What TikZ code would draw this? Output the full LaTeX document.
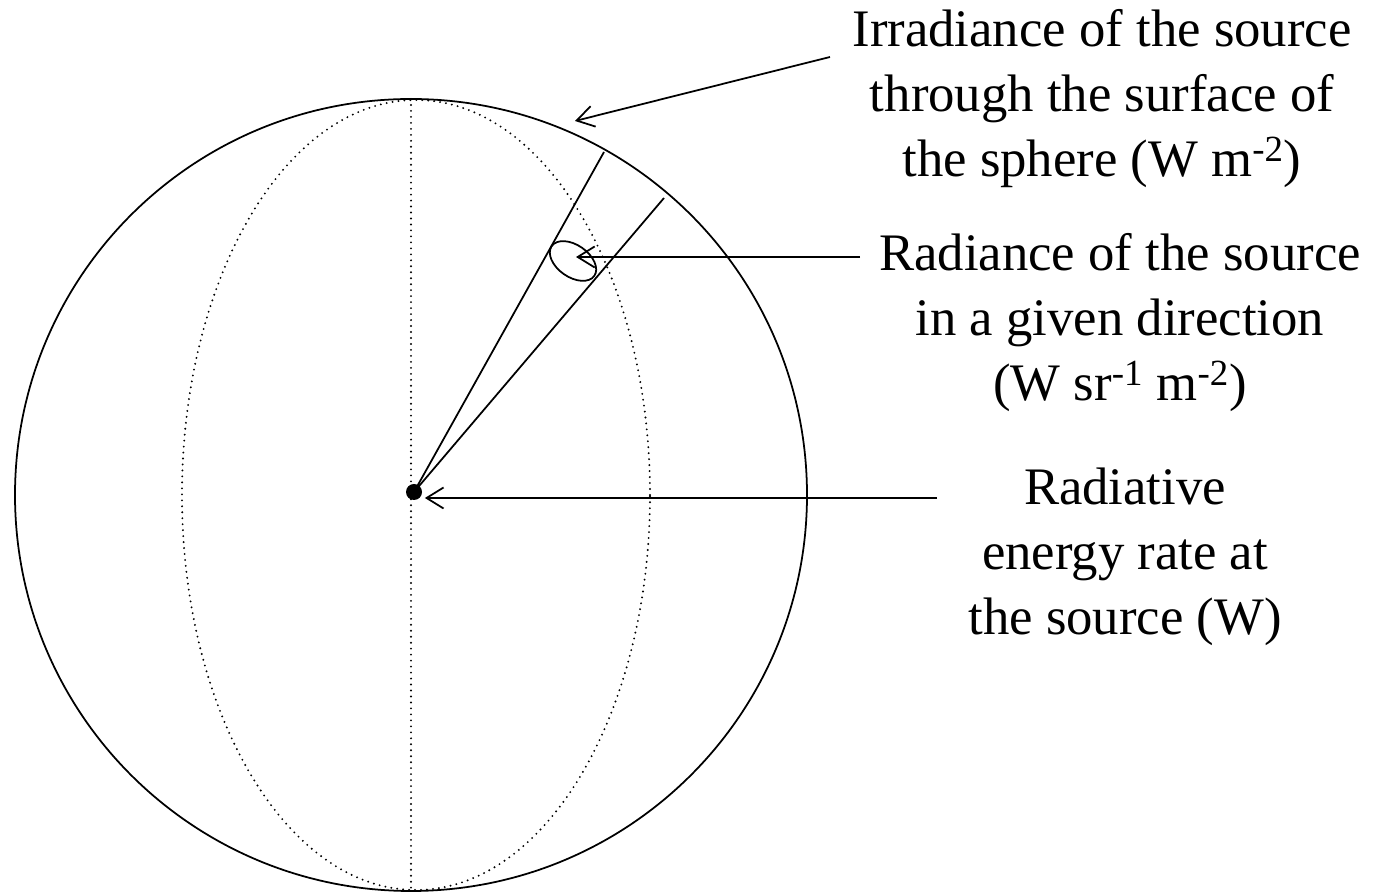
\documentclass[tikz,border=0pt]{standalone}
\usepackage{fontspec}
\setmainfont{Liberation Serif}
\usepackage{xcolor}
\usepackage{tikz}
\usetikzlibrary{
  arrows.meta,
  positioning,
  shapes.geometric,
  calc
}

\begin{document}
\begin{tikzpicture}[x=0.2mm, y=0.2mm, line width=1pt,
  arr/.style={-{Straight Barb[length=3.4mm, width=4.2mm, line width=1pt]}},
  dotline/.style={line width=1.2pt, line cap=round, dash pattern=on 0pt off 3.4pt},
  lbl/.style={align=center, inner sep=0pt, font=\fontsize{30}{37}\selectfont}]

  \useasboundingbox (0,0) rectangle (1379,892);

  % ---------- SPHERE ----------
  \coordinate (O) at (411,397);
  \draw (O) circle (396);

  % meridian and axis (dotted)
  \draw[dotline] (416,397) ellipse (234 and 395);
  \draw[dotline] (411,793) -- (411,1);

  % ---------- CONE TOWARD THE SURFACE ----------
  \node[circle, fill=black, inner sep=0pt, minimum size=3.2mm] (src) at (414,400) {};
  \coordinate (r1) at (604,740);
  \coordinate (r2) at (664,694);
  \draw (src.center) -- (r1);
  \draw (src.center) -- (r2);

  % small solid-angle patch
  \node[draw, ellipse, minimum width=10.4mm, minimum height=6.4mm, inner sep=0pt, rotate=-35]
    (patch) at (573,631) {};

  % ---------- LABELS ----------
  \node[lbl] (irr) at (1102,793) {Irradiance of the source\\ through the surface of\\ the sphere (W m\textsuperscript{-2})};
  \node[lbl] (rad) at (1120,569) {Radiance of the source\\ in a given direction\\ (W sr\textsuperscript{-1} m\textsuperscript{-2})};
  \node[lbl] (rate) at (1125,335) {Radiative\\ energy rate at\\ the source (W)};

  % arrow ends
  \coordinate (e1) at (830,835);
  \coordinate (t1) at (575,771);
  \coordinate (e2) at (860,635);
  \coordinate (t2) at (576,635);
  \coordinate (e3) at (937,394);

  \draw[arr] (e1) -- (t1);
  \draw[arr] (e2) -- (t2);
  \draw[arr] (e3) -- ($(e3 -| src.east)+(2,0)$);

\end{tikzpicture}
\end{document}
